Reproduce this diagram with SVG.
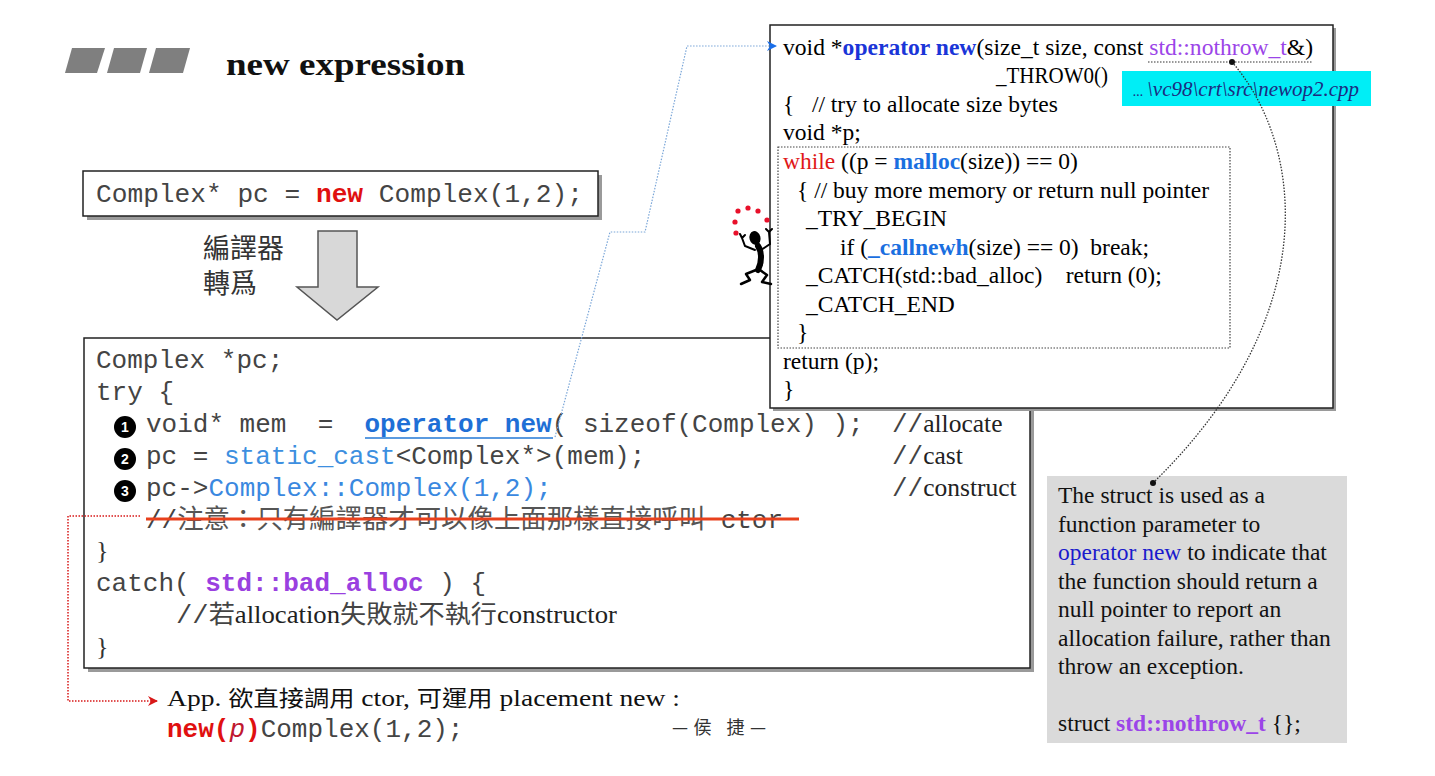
<svg xmlns="http://www.w3.org/2000/svg" width="1435" height="776" viewBox="0 0 1435 776">
<style>
.mono{font-family:"Liberation Mono","Courier New",monospace;font-size:26px;fill:#444}
.serif{font-family:"Liberation Serif","Times New Roman",serif}
.cjk{font-family:"Noto Sans CJK TC","Noto Sans CJK SC",sans-serif}
.rb{font-family:"Liberation Serif","Times New Roman",serif;font-size:23.5px;fill:#000}
.note{font-family:"Liberation Serif","Times New Roman",serif;font-size:23.5px;fill:#111}
.box{fill:#fff;stroke:#222;stroke-width:1.5}
.shadow{fill:#9a9a9a}
.cmt{font-family:"Liberation Serif","Times New Roman",serif;font-size:25.5px}
.num{font-family:"Liberation Sans",Arial,sans-serif;font-size:14px;font-weight:bold;fill:#fff;text-anchor:middle}
</style>
<defs>
<marker id="arrBlue" viewBox="0 0 10 10" refX="9" refY="5" markerWidth="10" markerHeight="10" markerUnits="userSpaceOnUse" orient="auto">
<path d="M0,0 L10,5 L0,10 L3,5 Z" fill="#1a6ee8"/>
</marker>
<marker id="arrRed" viewBox="0 0 10 10" refX="9" refY="5" markerWidth="10" markerHeight="10" markerUnits="userSpaceOnUse" orient="auto">
<path d="M0,0 L10,5 L0,10 L3,5 Z" fill="#d81818"/>
</marker>
</defs>
<rect width="1435" height="776" fill="#fff"/>

<g id="title">
<polygon points="72,48 105,48 97,73 65,73" fill="#7f7f7f"/>
<polygon points="114,48 147,48 140,73 107,73" fill="#7f7f7f"/>
<polygon points="156,48 190,48 183,73 149,73" fill="#7f7f7f"/>
<text x="226" y="75" class="serif" font-size="32" font-weight="bold" fill="#111" textLength="239" lengthAdjust="spacingAndGlyphs">new expression</text>
</g>

<g id="expr-box">
<rect x="87" y="175" width="515" height="45" class="shadow"/>
<rect x="83" y="171" width="515" height="45" class="box"/>
<text x="96" y="202" class="mono" xml:space="preserve" textLength="487" lengthAdjust="spacingAndGlyphs">Complex* pc = <tspan fill="#e01010" font-weight="bold">new</tspan> Complex(1,2);</text>
</g>

<g id="compile-arrow">
<polygon points="318,231 357,231 357,287 378,287 337,320 297,287 318,287" fill="#d8d8d8" stroke="#555" stroke-width="1.5"/>
<text x="203" y="258" class="cjk" font-size="27" fill="#333">編譯器</text>
<text x="203" y="293" class="cjk" font-size="27" fill="#333">轉爲</text>
</g>

<g id="main-box">
<rect x="88" y="342" width="946" height="330" class="shadow"/>
<rect x="84" y="338" width="946" height="330" class="box"/>
<text x="96" y="368" class="mono">Complex *pc;</text>
<text x="96" y="400" class="mono">try {</text>
<circle cx="125" cy="427" r="11" fill="#000"/>
<text x="125" y="432" class="num">1</text>
<text x="146" y="432" class="mono" xml:space="preserve">void* mem  =  <tspan fill="#1f6fd6" font-weight="bold">operator new</tspan>( sizeof(Complex) );</text>
<line x1="365" y1="438" x2="553" y2="438" stroke="#5a9ae0" stroke-width="2"/>
<text x="892" y="432" class="mono">//<tspan class="cmt" fill="#222">allocate</tspan></text>
<circle cx="125" cy="459" r="11" fill="#000"/>
<text x="125" y="464" class="num">2</text>
<text x="146" y="464" class="mono" xml:space="preserve">pc = <tspan fill="#3d8fe0">static_cast</tspan>&lt;Complex*&gt;(mem);</text>
<text x="892" y="464" class="mono">//<tspan class="cmt" fill="#222">cast</tspan></text>
<circle cx="125" cy="491" r="11" fill="#000"/>
<text x="125" y="496" class="num">3</text>
<text x="146" y="496" class="mono">pc-&gt;<tspan fill="#3a88e0">Complex::Complex(1,2);</tspan></text>
<text x="892" y="496" class="mono">//<tspan class="cmt" fill="#222">construct</tspan></text>
<text x="146" y="528" class="mono" fill="#555" xml:space="preserve">//<tspan class="cjk" font-size="26.4" fill="#555">注意：只有編譯器才可以像上面那樣直接呼叫</tspan> ctor</text>
<line x1="146" y1="519" x2="799" y2="519" stroke="#e8401c" stroke-width="3"/>
<text x="96" y="559" class="serif" font-size="26" fill="#333">}</text>
<text x="96" y="591" class="mono" xml:space="preserve">catch( <tspan fill="#9a40e0" font-weight="bold">std::bad_alloc</tspan> ) {</text>
<text x="176" y="623" class="mono" textLength="441" lengthAdjust="spacingAndGlyphs">//<tspan class="cjk" font-size="25">若</tspan><tspan class="cmt" fill="#222">allocation</tspan><tspan class="cjk" font-size="25">失敗就不執行</tspan><tspan class="cmt" fill="#222">constructor</tspan></text>
<text x="96" y="655" class="serif" font-size="26" fill="#333">}</text>
</g>

<g id="operator-new-box">
<rect x="773" y="28" width="563" height="383" class="shadow"/>
<rect x="770" y="25" width="563" height="383" class="box"/>
<text x="783" y="55" class="rb" xml:space="preserve" textLength="530" lengthAdjust="spacingAndGlyphs">void *<tspan font-weight="bold" fill="#1a35d8">operator new</tspan>(size_t size, const <tspan fill="#9b45e8">std::nothrow_t</tspan>&amp;)</text>
<text x="996" y="83" class="rb" textLength="112" lengthAdjust="spacingAndGlyphs">_THROW0()</text>
<text x="783" y="112" class="rb" xml:space="preserve">{   // try to allocate size bytes</text>
<text x="783" y="140" class="rb">void *p;</text>
<rect x="778" y="147" width="452" height="201" fill="none" stroke="#444" stroke-width="1.2" stroke-dasharray="1.5,1.5"/>
<text x="783" y="169" class="rb" xml:space="preserve"><tspan fill="#e01818">while</tspan> ((p = <tspan font-weight="bold" fill="#1a6fe0">malloc</tspan>(size)) == 0)</text>
<text x="797" y="198" class="rb" xml:space="preserve">{ // buy more memory or return null pointer</text>
<text x="806" y="226" class="rb">_TRY_BEGIN</text>
<text x="840" y="255" class="rb" xml:space="preserve">if (<tspan font-weight="bold" fill="#1a6fe0">_callnewh</tspan>(size) == 0)  break;</text>
<text x="806" y="283" class="rb" xml:space="preserve">_CATCH(std::bad_alloc)    return (0);</text>
<text x="806" y="312" class="rb">_CATCH_END</text>
<text x="797" y="340" class="rb">}</text>
<text x="783" y="369" class="rb">return (p);</text>
<text x="783" y="397" class="rb">}</text>
<rect x="1122" y="71" width="249" height="35" fill="#00eef6"/>
<text x="1133" y="96" class="serif" font-size="21" font-style="italic" fill="#1c2a80"><tspan font-size="14">... </tspan>\vc98\crt\src\newop2.cpp</text>
</g>

<g id="juggler">
<circle cx="738" cy="211" r="2.6" fill="#e8102a"/>
<circle cx="748" cy="208" r="2.6" fill="#e8102a"/>
<circle cx="758" cy="211" r="2.6" fill="#e8102a"/>
<circle cx="735" cy="222" r="2.6" fill="#e8102a"/>
<circle cx="767" cy="220" r="2.6" fill="#e8102a"/>
<circle cx="736" cy="233" r="2.6" fill="#e8102a"/>
<ellipse cx="755" cy="238" rx="5.5" ry="7" fill="#000" transform="rotate(-15 755 238)"/>
<path d="M758,246 C762,252 762,262 758,270" fill="none" stroke="#000" stroke-width="6" stroke-linecap="round"/>
<path d="M755,250 L745,246 L742,238 M742,238 L740,234 M742,238 L745,235" fill="none" stroke="#000" stroke-width="2" stroke-linecap="round"/>
<path d="M761,250 L770,244 L769,232 M769,232 L766,229 M769,232 L772,229" fill="none" stroke="#000" stroke-width="2" stroke-linecap="round"/>
<path d="M756,270 L746,274 L750,280 L741,284" fill="none" stroke="#000" stroke-width="2.5" stroke-linecap="round" stroke-linejoin="round"/>
<path d="M760,270 L767,275 L762,282 L771,284" fill="none" stroke="#000" stroke-width="2.5" stroke-linecap="round" stroke-linejoin="round"/>
</g>

<g id="note-box">
<rect x="1047" y="476" width="300" height="267" fill="#dadada"/>
<text x="1058" y="503" class="note">The struct is used as a</text>
<text x="1058" y="532" class="note">function parameter to</text>
<text x="1058" y="560" class="note"><tspan fill="#1a1acc">operator new</tspan> to indicate that</text>
<text x="1058" y="589" class="note">the function should return a</text>
<text x="1058" y="617" class="note">null pointer to report an</text>
<text x="1058" y="646" class="note">allocation failure, rather than</text>
<text x="1058" y="674" class="note">throw an exception.</text>
<text x="1058" y="731" class="note">struct <tspan font-weight="bold" fill="#9b45e8">std::nothrow_t</tspan> {};</text>
</g>

<g id="placement-note">
<text x="167" y="706" class="serif" font-size="24" fill="#111" xml:space="preserve" textLength="513" lengthAdjust="spacingAndGlyphs">App. <tspan class="cjk" font-size="22">欲直接調用</tspan> ctor, <tspan class="cjk" font-size="22">可運用</tspan> placement new :</text>
<text x="167" y="737" class="mono"><tspan fill="#e01010" font-weight="bold">new(</tspan><tspan fill="#c01830" font-style="italic">p</tspan><tspan fill="#e01010" font-weight="bold">)</tspan>Complex(1,2);</text>
<text x="672" y="734" class="cjk" font-size="18" fill="#333" xml:space="preserve" textLength="94" lengthAdjust="spacing">—侯 捷—</text>
</g>

<g id="connectors" fill="none">
<polyline points="555,437 610,232 645,232 687,46 776,46" stroke="#7aa6d8" stroke-width="1.2" stroke-dasharray="1.5,1.5" marker-end="url(#arrBlue)"/>
<polyline points="140,516 68,516 68,701 157,701" stroke="#d81818" stroke-width="1.5" stroke-dasharray="1.5,1.5" marker-end="url(#arrRed)"/>
<line x1="1148" y1="62" x2="1312" y2="62" stroke="#333" stroke-width="1.2" stroke-dasharray="1.5,1.5"/>
<path d="M1232,62 C1300,140 1330,310 1153,483" stroke="#333" stroke-width="1.3" stroke-dasharray="1.5,1.5"/>
<circle cx="1232" cy="62" r="3" fill="#111"/>
<circle cx="1153" cy="483" r="3" fill="#111"/>
</g>
</svg>
